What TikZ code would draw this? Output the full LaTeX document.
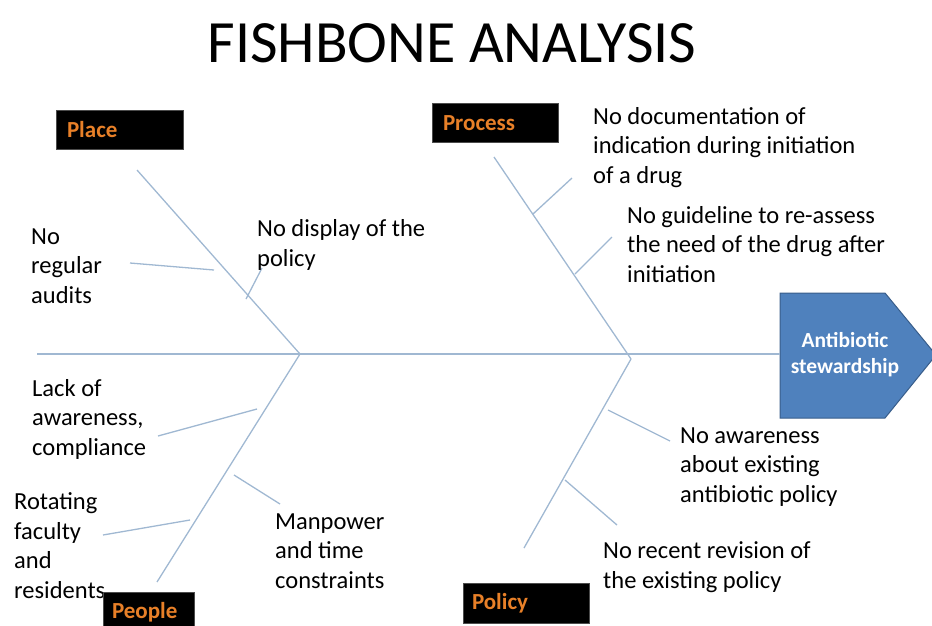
\documentclass[tikz,border=0pt]{standalone}
\usepackage{fontspec}
\setmainfont{Carlito}
\definecolor{bonecol}{RGB}{160,184,210}
\definecolor{catorange}{RGB}{232,128,40}
\definecolor{goalfill}{RGB}{79,129,189}
\definecolor{goaldraw}{RGB}{56,93,138}
\begin{document}
\begin{tikzpicture}[x=1pt,y=-1pt,
  bone/.style={draw=bonecol,line width=1.3pt},
  lbl/.style={anchor=base west,inner sep=0pt,align=left,font=\fontsize{24.5}{29.5}\selectfont,text=black},
  catbox/.style={fill=black,draw=black!70,line width=0.8pt,inner sep=0pt,font=\fontsize{23}{27}\selectfont\bfseries,text=catorange},
  goalshape/.style={fill=goalfill,draw=goaldraw,line width=1pt},
  goaltext/.style={align=center,text=white,font=\fontsize{21.5}{26}\selectfont\bfseries,inner sep=0pt}]
\useasboundingbox (0,0) rectangle (932,625);
% title
\node[anchor=base,inner sep=0pt,font=\fontsize{60}{72}\selectfont] (title) at (452,62) {FISHBONE ANALYSIS};
% goal arrow
\coordinate (goalW) at (780,354);
\path[goalshape] (780,293) -- (885,293) -- (936,355) -- (885,418) -- (780,418) -- cycle;
\node[goaltext] (goal) at (845,355) {Antibiotic\\stewardship};
% junctions
\coordinate (spineL) at (37,354);
\coordinate (J1) at (300,354);
\coordinate (J2) at (631,359);
\coordinate (placeTop) at (137,170);
\coordinate (processTop) at (494,157);
\coordinate (peopleBot) at (157,582);
\coordinate (policyBot) at (524,548);
% spine and main bones
\draw[bone] (spineL) -- (goalW);
\draw[bone] (placeTop) -- (J1);
\draw[bone] (J1) -- (peopleBot);
\draw[bone] (processTop) -- (J2);
\draw[bone] (J2) -- (policyBot);
% sub-bones
\draw[bone] (130,263) -- (214,270);
\draw[bone] (246,299) -- (262,268);
\draw[bone] (533,214) -- (572,178);
\draw[bone] (575,274) -- (612,237);
\draw[bone] (608,410) -- (670,441);
\draw[bone] (565,480) -- (617,525);
\draw[bone] (158,436) -- (257,409);
\draw[bone] (103,535) -- (190,520);
\draw[bone] (234,475) -- (280,504);
% labels (anchored at the baseline of the last line)
\node[lbl] (l1) at (31,303) {No\\regular\\audits};
\node[lbl] (l2) at (257,266) {No display of the\\policy};
\node[lbl] (l3) at (593,183) {No documentation of\\indication during initiation\\of a drug};
\node[lbl] (l4) at (627,282) {No guideline to re-assess\\the need of the drug after\\initiation};
\node[lbl] (l5) at (32,455) {Lack of\\awareness,\\compliance};
\node[lbl] (l6) at (14,598) {Rotating\\faculty\\and\\residents};
\node[lbl] (l7) at (275,588) {Manpower\\and time\\constraints};
\node[lbl] (l8) at (680,502) {No awareness\\about existing\\antibiotic policy};
\node[lbl] (l9) at (603,588) {No recent revision of\\the existing policy};
% category boxes
\node[catbox,minimum width=127pt,minimum height=39pt] (place) at (119.5,129.5) {\makebox[105pt][l]{Place}};
\node[catbox,minimum width=126pt,minimum height=39pt] (process) at (495,123) {\makebox[104pt][l]{Process}};
\node[catbox,minimum width=91pt,minimum height=40pt] (people) at (148.5,612) {\makebox[73pt][l]{People}};
\node[catbox,minimum width=126pt,minimum height=40pt] (policy) at (526,603) {\makebox[108pt][l]{Policy}};
\end{tikzpicture}
\end{document}
